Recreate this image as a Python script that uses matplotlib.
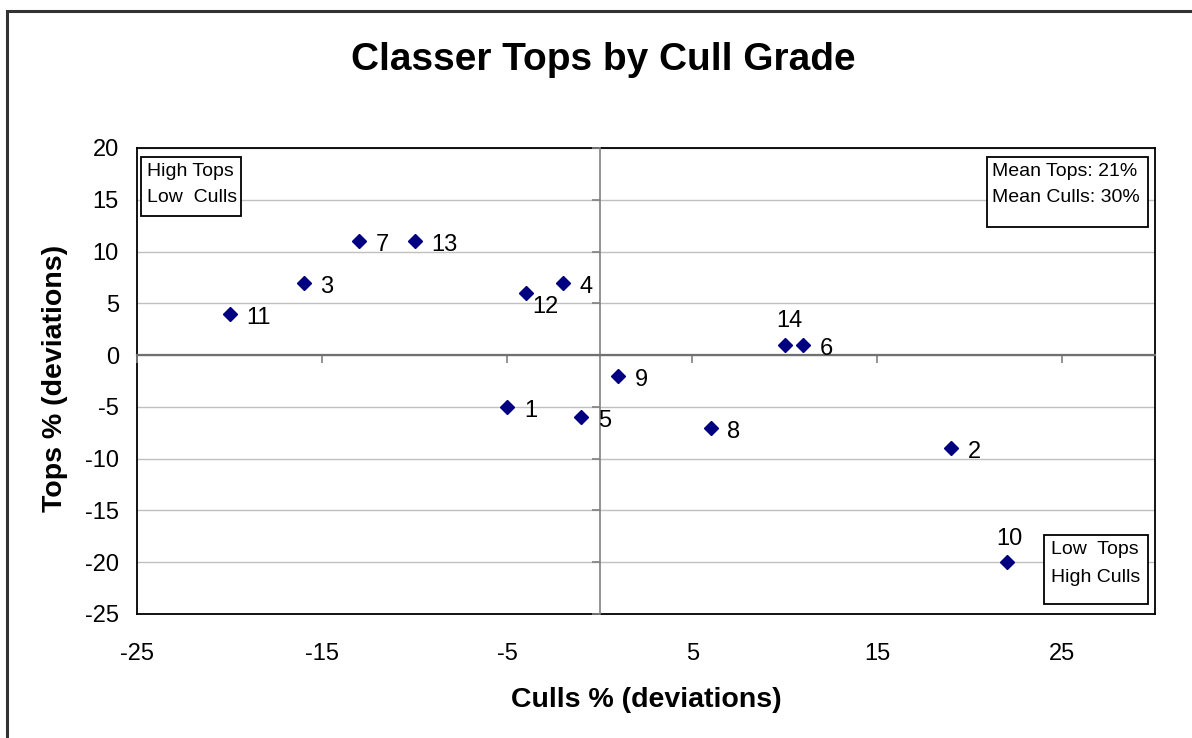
import matplotlib
matplotlib.use("Agg")
import matplotlib.pyplot as plt
from matplotlib.patches import Rectangle

plt.rcParams['font.family'] = ['Liberation Sans', 'DejaVu Sans']
plt.rcParams['axes.unicode_minus'] = False

# ---- data ----
labels = ["1", "2", "3", "4", "5", "6", "7", "8", "9", "10", "11", "12", "13", "14"]
culls = [-5, 19, -16, -2, -1, 11, -13, 6, 1, 22, -20, -4, -10, 10]
tops = [-5, -9, 7, 7, -6, 1, 11, -7, -2, -20, 4, 6, 11, 1]
x_ticks = [-25, -15, -5, 5, 15, 25]
y_ticks = [-25, -20, -15, -10, -5, 0, 5, 10, 15, 20]
title = "Classer Tops by Cull Grade"
xlabel = "Culls % (deviations)"
ylabel = "Tops % (deviations)"
box_tl = "High Tops\nLow  Culls"
box_tr = "Mean Tops: 21%\nMean Culls: 30%"
box_br = "Low  Tops\nHigh Culls"

# label offsets (points): default right
offsets = {"14": (3, 9, 'center', 'bottom'), "10": (2, 9, 'center', 'bottom'),
           "12": (5, -2, 'left', 'top')}

W, H = 1192, 738
fig = plt.figure(figsize=(W / 100, H / 100), dpi=100)

def fx(x):
    return x / W

def fy(y):
    return 1 - y / H

# outer frame
fig.patches.append(Rectangle((fx(7), fy(1000)), fx(1400), fy(11) - fy(1000),
                             transform=fig.transFigure, fill=False,
                             ec='#333333', lw=2.2, zorder=0))

L, R, T, B = 137, 1155, 148, 614
ax = fig.add_axes([fx(L), fy(B), fx(R - L), fy(T) - fy(B)])
ax.set_xlim(-25, 30)
ax.set_ylim(-25, 20)
ax.set_xticks(x_ticks)
ax.set_yticks(y_ticks)
ax.tick_params(length=0, labelsize=17)
ax.tick_params(axis='x', pad=21)
ax.tick_params(axis='y', pad=13)
ax.grid(axis='y', color='#c0c0c0', lw=1)
ax.set_axisbelow(True)
for s in ax.spines.values():
    s.set_color('black')
    s.set_linewidth(1.3)

# crossing axes with ticks
ax2 = fig.add_axes(ax.get_position(), sharex=ax, sharey=ax, frameon=True)
ax2.patch.set_visible(False)
ax2.spines['top'].set_visible(False)
ax2.spines['right'].set_visible(False)
ax2.spines['left'].set_position(('data', 0))
ax2.spines['bottom'].set_position(('data', 0))
ax2.spines['left'].set_color('#808080')
ax2.spines['bottom'].set_color('#707070')
ax2.spines['bottom'].set_linewidth(1.6)
ax2.spines['left'].set_linewidth(1.2)
ax2.tick_params(direction='out', length=6, width=1.2, colors='#808080',
                labelleft=False, labelbottom=False)
ax2.set_xticks(x_ticks)
ax2.set_yticks(y_ticks)

ax2.plot(culls, tops, linestyle='none', marker='D', ms=7, color='#000080',
         zorder=5, clip_on=False)
for lab, x, y in zip(labels, culls, tops):
    dx, dy, ha, va = offsets.get(lab, (12, -3, 'left', 'center'))
    ax2.annotate(lab, (x, y), xytext=(dx, dy), textcoords='offset points',
                 ha=ha, va=va, fontsize=17)

fig.text(fx(603), fy(60), title, ha='center', va='center', fontsize=28,
         fontweight='bold')
fig.text(fx(646), fy(700), xlabel, ha='center', va='center', fontsize=20.5,
         fontweight='bold')
fig.text(fx(55), fy(378), ylabel, ha='center', va='center', fontsize=20.5,
         fontweight='bold', rotation=90)

def textbox(x0, y0, x1, y1, text, tx, ty1, ty2):
    fig.patches.append(Rectangle((fx(x0), fy(y1)), fx(x1 - x0), fy(y0) - fy(y1),
                                 transform=fig.transFigure, fc='white',
                                 ec='black', lw=1.3, zorder=10))
    l1, l2 = text.split("\n")
    fig.text(fx(tx), fy(ty1), l1, ha='left', va='center', fontsize=14, zorder=11)
    fig.text(fx(tx), fy(ty2), l2, ha='left', va='center', fontsize=14, zorder=11)

textbox(141, 157, 241, 216, box_tl, 147, 171, 198)
textbox(987, 157, 1148, 227, box_tr, 992, 172, 198)
textbox(1044, 535, 1148, 604, box_br, 1051, 549, 577)

fig.savefig("out.png", dpi=100)
